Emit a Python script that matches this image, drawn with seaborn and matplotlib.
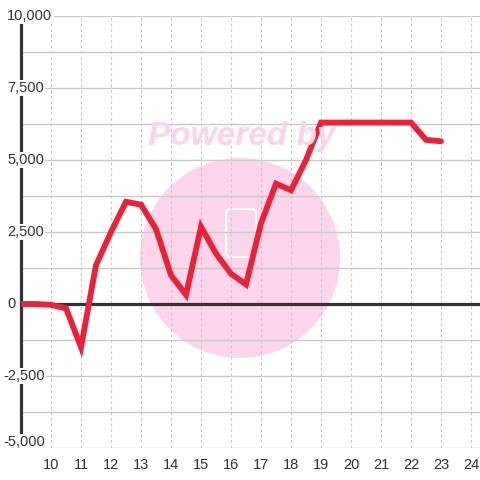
import matplotlib
matplotlib.use("Agg")
import matplotlib.pyplot as plt
import seaborn as sns
import pandas as pd
from matplotlib.patches import Circle, FancyBboxPatch

sns.set_theme(style="white")
plt.rcParams['font.family'] = ['Liberation Sans', 'DejaVu Sans']

x_vals = [9.0, 9.5, 10.0, 10.5, 11.0, 11.5, 12.0, 12.5, 13.0, 13.5, 14.0, 14.5,
          15.0, 15.5, 16.0, 16.5, 17.0, 17.5, 18.0, 18.5, 19.0, 19.5, 20.0,
          20.5, 21.0, 21.5, 22.0, 22.5, 23.0]
y_vals = [0, 0, -30, -150, -1500, 1350, 2500, 3550, 3450, 2600, 1000, 320,
          2680, 1750, 1050, 680, 2800, 4180, 3950, 5000, 6300, 6300, 6300,
          6300, 6300, 6300, 6300, 5700, 5650]
x_ticks = list(range(10, 25))
y_ticks = [-5000, -2500, 0, 2500, 5000, 7500, 10000]
y_tick_labels = ["-5,000", "-2,500", "0", "2,500", "5,000", "7,500", "10,000"]
y_grid = [-5000, -3750, -2500, -1250, 0, 1250, 2500, 3750, 5000, 6250, 7500, 8750, 10000]

df = pd.DataFrame({"x": x_vals, "y": y_vals})

fig = plt.figure(figsize=(4.8, 4.8), dpi=100)
fig.patch.set_facecolor("white")
ax = fig.add_axes([21 / 480, 32 / 480, 459 / 480, 432 / 480])
ax.set_facecolor("white")
ax.set_xlim(9.0, 24.3)
ax.set_ylim(-5000, 10000)

# watermark
circ = Circle((240, 480 - 258), 100, transform=None, facecolor="#FBD5EB",
              edgecolor="none", zorder=0.5)
ax.add_artist(circ)
rect = FancyBboxPatch((226, 480 - 257), 30, 48, boxstyle="round,pad=0,rounding_size=4",
                      transform=None, facecolor="none", edgecolor="white", lw=1.5, zorder=0.6)
ax.add_artist(rect)
fig.text(242 / 480, 1 - 136 / 480, "Powered by", ha="center", va="center",
         fontsize=24, fontweight="bold", fontstyle="italic", color="#FBD3EA", zorder=1.5)

# grids
for yv in y_grid:
    ax.axhline(yv, color="#C8C8C8", lw=1.0, zorder=1)
for xv in x_ticks:
    ax.axvline(xv, color="#C8C8C8", lw=0.8, ls=(0, (2.5, 2.5)), zorder=1)

ax.axhline(0, color="#333333", lw=2.3, zorder=2)

sns.lineplot(data=df, x="x", y="y", ax=ax, color="#EE2037", linewidth=4.2,
             zorder=4, sort=False)
for l in ax.lines[-1:]:
    l.set_solid_joinstyle("miter")

for s in ["top", "right", "bottom"]:
    ax.spines[s].set_visible(False)
ax.spines["left"].set_color("#333333")
ax.spines["left"].set_linewidth(2.3)
ax.spines["left"].set_zorder(2.5)

ax.set_xticks(x_ticks)
ax.set_xticklabels([str(t) for t in x_ticks])
ax.tick_params(axis="x", length=0, pad=7, labelsize=10.5, labelcolor="#333333")
ax.set_yticks([])
ax.set_xlabel("")
ax.set_ylabel("")

trans = ax.get_yaxis_transform()
for yv, lab in zip(y_ticks, y_tick_labels):
    xpx = 3 if lab.startswith("-") else 7
    dy = 4 if yv == y_ticks[0] else 0
    ax.annotate(lab, xy=((xpx - 21) / 459, yv), xycoords=trans,
                xytext=(0, dy), textcoords="offset points",
                ha="left", va="center", fontsize=10.5, color="#333333",
                zorder=3, annotation_clip=False,
                bbox=dict(facecolor="white", edgecolor="none", pad=1.0))

fig.savefig("out.png", dpi=100, facecolor="white")
